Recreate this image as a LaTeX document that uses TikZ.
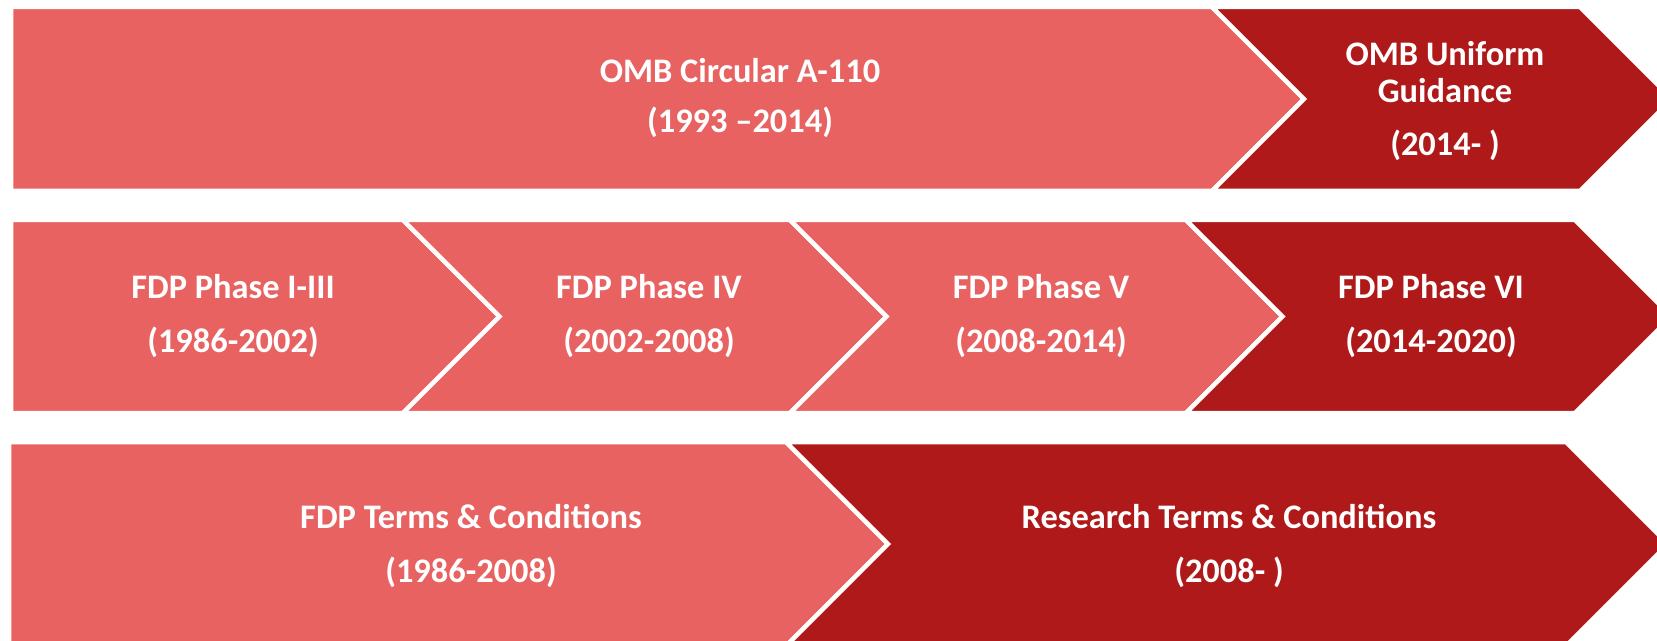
\documentclass[tikz,border=0pt]{standalone}
\usepackage{fontspec}
\setmainfont{Carlito}
\usepackage{tikz}
\tikzset{lite/.style = {fill = mpink, draw = white, line width = 2.25pt}}
\tikzset{deep/.style = {fill = mcrimson, draw = white, line width = 2.25pt}}
\tikzset{lbl/.style = {text = white, font = \bfseries\fontsize{17.2}{20}\selectfont, inner sep = 0, anchor = base}}
\definecolor{mpink}{rgb}{0.91, 0.385, 0.385}
\definecolor{mcrimson}{rgb}{0.69, 0.1, 0.1}

\begin{document}
\begin{tikzpicture}[x=0.5pt, y=-0.5pt]
    \useasboundingbox (0, 0) rectangle (1657, 641);
    \clip (0, 0) rectangle (1657, 641);

    % row 1: OMB
    \draw [lite] (11, 7) -- (1212, 7) -- (1304, 99) -- (1212, 191) -- (11, 191) -- cycle;
    \draw [deep] (1212, 7) -- (1580, 7) -- (1672, 99) -- (1580, 191) -- (1212, 191) -- (1304, 99) -- cycle;

    \node [lbl] (omb) at (740, 83) {OMB Circular A-110};
    \node [lbl] (ombyr) at (740, 133) {(1993 –2014)};
    \node [lbl] (ug) at (1445, 66) {OMB Uniform};
    \node [lbl] (ugb) at (1445, 103) {Guidance};
    \node [lbl] (ugyr) at (1445, 156) {(2014- )};

    % row 2: FDP phases
    \draw [lite] (11, 220) -- (403, 220) -- (499.5, 316.5) -- (403, 413) -- (11, 413) -- cycle;
    \foreach \a/\b in {403/790, 790/1186}{
      \draw [lite] (\a, 220) -- (\b, 220) -- (\b + 96.5, 316.5) -- (\b, 413) -- (\a, 413) -- (\a + 96.5, 316.5) -- cycle;
    }
    \draw [deep] (1186, 220) -- (1575, 220) -- (1671.5, 316.5) -- (1575, 413) -- (1186, 413) -- (1282.5, 316.5) -- cycle;

    \foreach \x/\ph/\yr/\n in {233/I-III/1986-2002/1, 649/IV/2002-2008/2, 1041/V/2008-2014/3, 1431/VI/2014-2020/4}{
      \node [lbl] (ph\n) at (\x, 299) {FDP Phase \ph};
      \node [lbl] (ph\n yr) at (\x, 352) {(\yr)};
    }

    % row 3: terms and conditions
    \draw [lite] (9, 442) -- (786, 442) -- (888, 544) -- (786, 646) -- (9, 646) -- cycle;
    \draw [deep] (786, 442) -- (1566, 442) -- (1668, 544) -- (1566, 646) -- (786, 646) -- (888, 544) -- cycle;

    \node [lbl] (tc) at (471, 528) {FDP Terms \& Conditions};
    \node [lbl] (tcyr) at (471, 582) {(1986-2008)};
    \node [lbl] (rtc) at (1229, 528) {Research Terms \& Conditions};
    \node [lbl] (rtcyr) at (1229, 582) {(2008- )};
\end{tikzpicture}
\end{document}
